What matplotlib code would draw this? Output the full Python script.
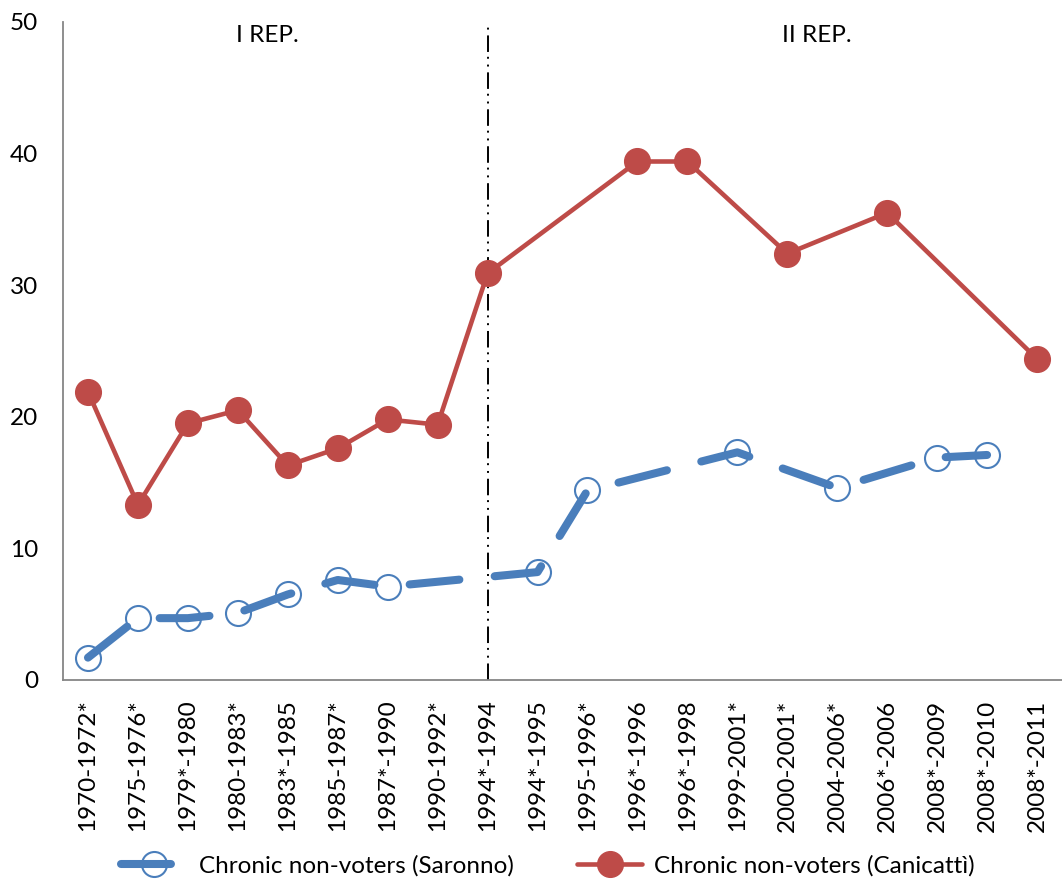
import numpy as np
import matplotlib
matplotlib.use("Agg")
import matplotlib.pyplot as plt

plt.rcParams["font.family"] = ["Lato", "DejaVu Sans"]

periods = [
    "1970-1972*", "1975-1976*", "1979*-1980", "1980-1983*", "1983*-1985",
    "1985-1987*", "1987*-1990", "1990-1992*", "1994*-1994", "1994*-1995",
    "1995-1996*", "1996*-1996", "1996*-1998", "1999-2001*", "2000-2001*",
    "2004-2006*", "2006*-2006", "2008*-2009", "2008*-2010", "2008*-2011",
]
nan = np.nan
saronno = [1.7, 4.7, 4.7, 5.1, 6.5, 7.6, 7.1, nan, nan, 8.2,
           14.4, nan, nan, 17.3, nan, 14.6, nan, 16.9, 17.1, nan]
canicatti = [21.9, 13.3, 19.5, 20.5, 16.3, 17.6, 19.8, 19.4, 30.9, nan,
             nan, 39.4, 39.4, nan, 32.4, nan, 35.5, nan, nan, 24.4]
split_label = "1994*-1994"
era_labels = ["I REP.", "II REP."]

blue = "#4a7ebb"
red = "#be4b48"
fs = 17.5

fig = plt.figure(figsize=(10.62, 8.81), dpi=100)
ax = fig.add_axes([63 / 1062, 1 - 680 / 881, 1 - 63 / 1062, (680 - 22) / 881])

x = np.arange(len(periods))


def present(vals):
    v = np.array(vals, dtype=float)
    m = ~np.isnan(v)
    return x[m], v[m]


xs, ys = present(saronno)
ax.plot(xs, ys, color=blue, linewidth=5.8, dashes=(6.2, 4.4),
        dash_capstyle="round", solid_capstyle="round",
        marker="o", markersize=18, markerfacecolor="none",
        markeredgecolor=blue, markeredgewidth=1.5,
        label="Chronic non-voters (Saronno)", zorder=3)

xc, yc = present(canicatti)
ax.plot(xc, yc, color=red, linewidth=3.3, solid_capstyle="round",
        marker="o", markersize=18.5, markerfacecolor=red, markeredgecolor=red,
        label="Chronic non-voters (Canicattì)", zorder=4)

xv = periods.index(split_label)
ax.plot([xv, xv], [0, 50], color="black", linewidth=1.4,
        dashes=(8.5, 3, 1, 3, 1, 2.5), zorder=2)

ax.text(3.6, 49.8, era_labels[0], ha="center", va="top", fontsize=fs)
ax.text(14.6, 49.8, era_labels[1], ha="center", va="top", fontsize=fs)

ax.set_xlim(-0.5, len(periods) - 0.5)
ax.set_ylim(0, 50)
ax.set_yticks(range(0, 51, 10))
ax.set_xticks(x)
ax.set_xticklabels(periods, rotation=90, fontsize=fs)
ax.tick_params(axis="y", length=0, pad=18, labelsize=fs)
ax.tick_params(axis="x", length=0, pad=14)
for s in ["top", "right"]:
    ax.spines[s].set_visible(False)
for s in ["left", "bottom"]:
    ax.spines[s].set_color("#868686")
    ax.spines[s].set_linewidth(1.3)

fig.legend(loc="center", bbox_to_anchor=(0.516, 1 - 866 / 881), ncol=2,
           frameon=False, fontsize=fs, handlelength=2.7, handletextpad=0.5,
           columnspacing=2.6)

fig.savefig("out.png", dpi=100, facecolor="white")
